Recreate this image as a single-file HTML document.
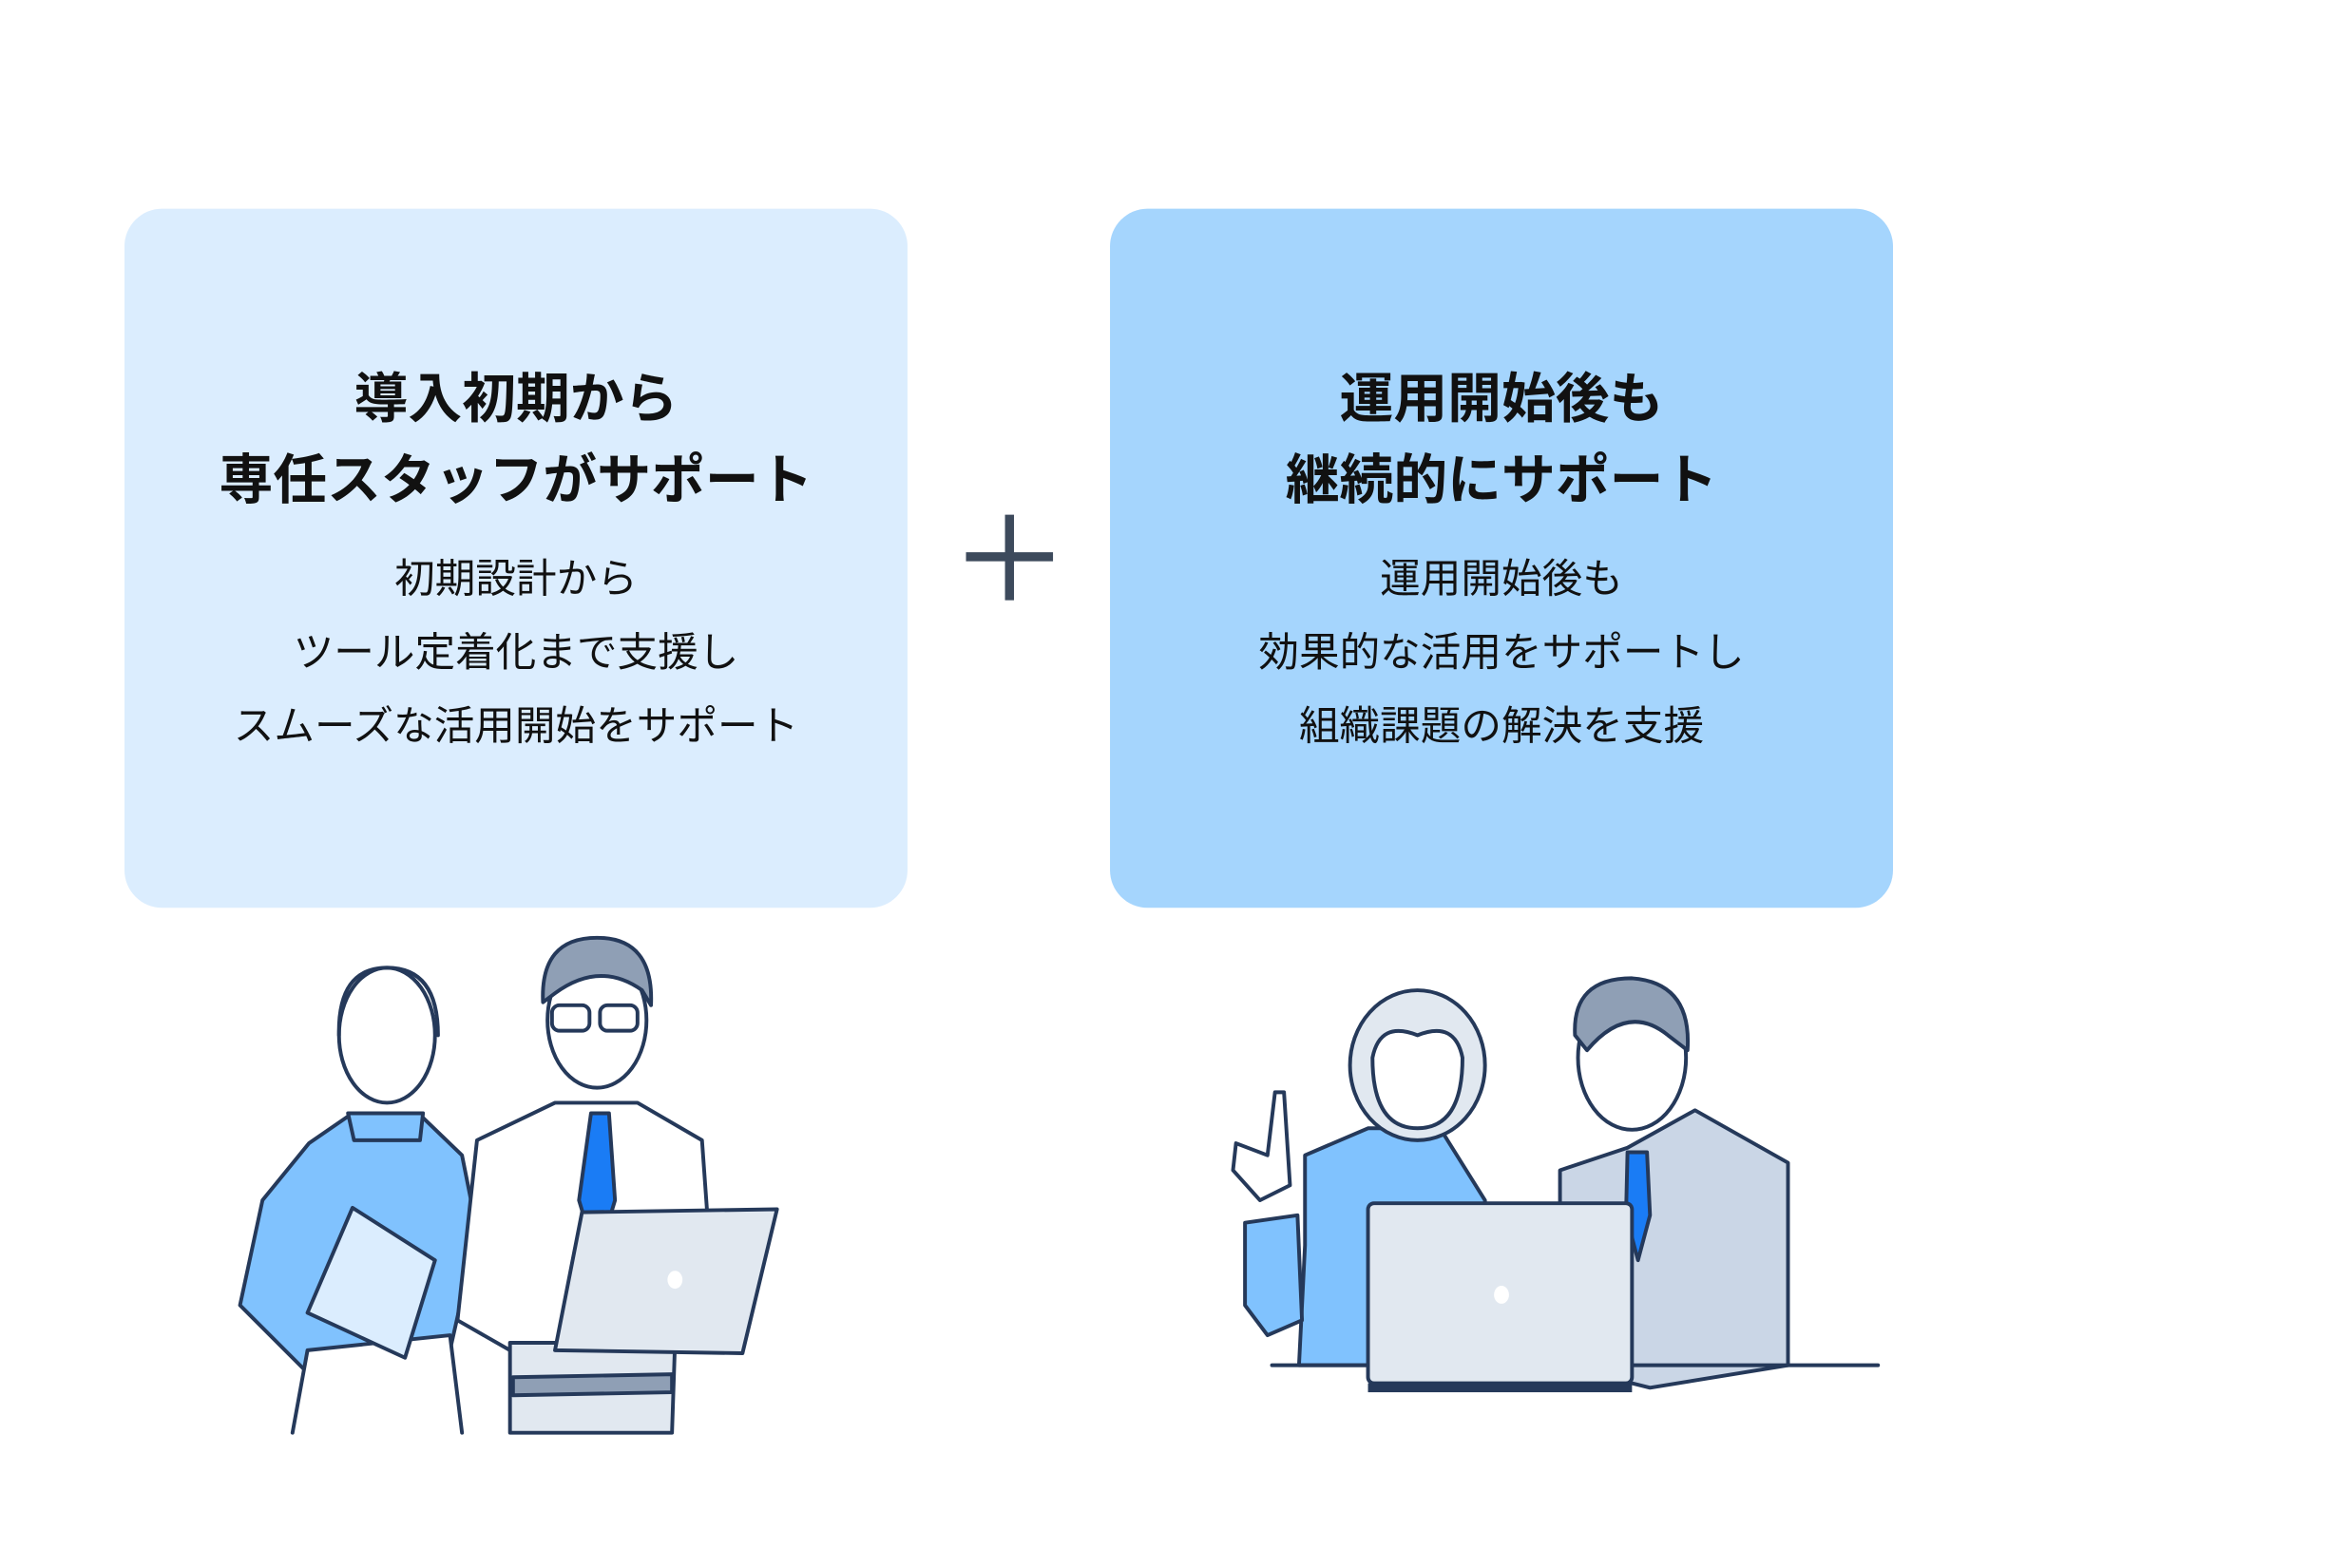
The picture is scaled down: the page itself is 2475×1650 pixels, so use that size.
<!DOCTYPE html>
<html><head><meta charset="utf-8"><style>
html,body{margin:0;padding:0;background:#fff;}
svg{display:block}
text{font-family:"Liberation Sans","Noto Sans CJK JP",sans-serif;fill:#111;text-anchor:middle}
.t{font-size:36px;font-weight:700}
.b{font-size:27px}
.s{stroke:#25395a;stroke-width:2.5;stroke-linejoin:round;stroke-linecap:round}
</style></head><body>
<svg width="2475" height="1650" viewBox="0 0 1568 1045">
<rect x="83" y="139" width="522" height="466" rx="25" fill="#dbedfe"/>
<rect x="740" y="139" width="522" height="466" rx="25" fill="#a5d5fd"/>
<text class="t" x="344" y="278">導入初期から</text>
<text class="t" x="344" y="332">専任スタッフがサポート</text>
<text class="b" x="344" y="395">初期設計から</text>
<text class="b" x="344" y="444">ツール定着化まで支援し</text>
<text class="b" x="344" y="493">スムーズな活用開始をサポート</text>
<text class="t" x="1001" y="278">運用開始後も</text>
<text class="t" x="1001" y="332">継続的にサポート</text>
<text class="b" x="1001" y="395">運用開始後も</text>
<text class="b" x="1001" y="444">効果的な活用をサポートし</text>
<text class="b" x="1001" y="493">組織課題の解決を支援</text>
<path d="M644 371H702M673 343V400" stroke="#3d4a5c" stroke-width="6"/>

<!-- left woman -->
<path class="s" d="M206 762 L235 742 L282 745 L308 770 L318 820 L300 900 L230 940 L160 870 L175 800 Z" fill="#80c2fe"/>
<path class="s" d="M195 955 L205 900 L300 890 L308 955" fill="#fff"/>
<path class="s" d="M235 805 L290 840 L270 905 L205 875 Z" fill="#dbedfe"/>
<ellipse class="s" cx="258" cy="690" rx="32" ry="45" fill="#fff"/>
<path class="s" d="M226 690 Q225 645 258 645 Q292 645 292 690" fill="none"/>
<path class="s" d="M232 742 L236 760 L280 760 L282 742 Z" fill="#80c2fe"/>
<!-- left man -->
<path class="s" d="M318 760 L370 735 L425 735 L468 760 L478 900 L340 900 L305 880 Z" fill="#fff"/>
<path class="s" d="M340 895 L450 895 L448 955 L340 955 Z" fill="#e1e8f0"/>
<path class="s" d="M342 918 L448 916 L448 928 L342 930 Z" fill="#8f9fb5"/>
<path class="s" d="M394 742 L406 742 L410 800 L398 840 L386 800 Z" fill="#1a7cf5"/>
<ellipse class="s" cx="398" cy="680" rx="33" ry="45" fill="#fff"/>
<path class="s" d="M362 668 Q360 625 398 625 Q436 625 434 670 L428 660 Q400 640 370 662 Z" fill="#8f9fb5"/>
<rect class="s" x="368" y="670" width="25" height="17" rx="5" fill="none"/>
<rect class="s" x="400" y="670" width="25" height="17" rx="5" fill="none"/>
<path class="s" d="M388 808 L518 806 L495 902 L370 900 Z" fill="#e1e8f0"/>
<ellipse cx="450" cy="853" rx="5" ry="6" fill="#fff"/>

<!-- right woman -->
<path class="s" d="M870 770 L912 752 L960 752 L990 800 L990 910 L866 910 L870 830 Z" fill="#80c2fe"/>
<path class="s" d="M830 815 L865 810 L868 880 L845 890 L830 870 Z" fill="#80c2fe"/>
<path class="s" d="M845 770 L850 728 L856 728 L860 790 L840 800 L822 780 L824 762 Z" fill="#fff"/>
<ellipse class="s" cx="945" cy="710" rx="45" ry="50" fill="#e1e8f0"/>
<path class="s" d="M915 705 Q920 680 945 690 Q970 680 975 705 Q975 752 945 752 Q915 752 915 705 Z" fill="#fff"/>
<!-- right man -->
<path class="s" d="M1040 780 L1085 765 L1130 740 L1192 775 L1192 910 L1100 925 L1040 910 Z" fill="#cad6e6"/>
<path class="s" d="M1085 768 L1098 768 L1100 810 L1092 840 L1084 810 Z" fill="#1a7cf5"/>
<ellipse class="s" cx="1088" cy="705" rx="36" ry="48" fill="#fff"/>
<path class="s" d="M1050 690 Q1048 652 1088 652 Q1128 655 1125 700 L1112 690 Q1085 668 1058 700 Z" fill="#8f9fb5"/>
<line class="s" x1="848" y1="910" x2="1252" y2="910"/>
<rect class="s" x="912" y="802" width="176" height="120" rx="4" fill="#e1e8f0"/>
<rect x="912" y="922" width="176" height="6" fill="#25395a"/>
<ellipse cx="1001" cy="863" rx="5" ry="6" fill="#fff"/>
</svg>
</body></html>
